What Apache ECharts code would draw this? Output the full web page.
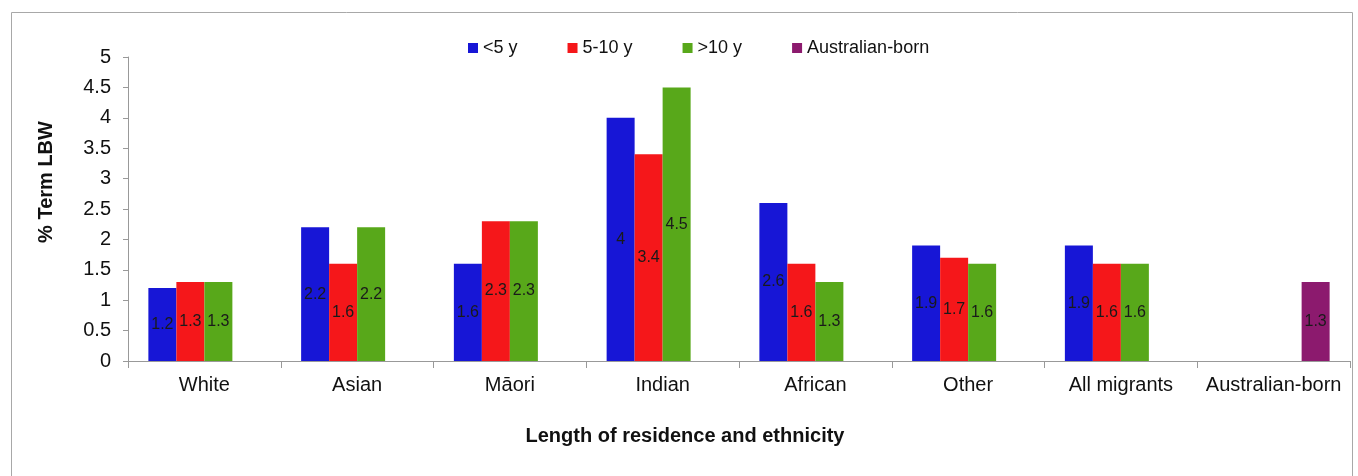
<!DOCTYPE html>
<html>
<head>
<meta charset="utf-8">
<script src="https://cdn.jsdelivr.net/npm/echarts@6/dist/echarts.min.js"></script>
<style>
  html, body { margin: 0; padding: 0; background: #fff; }
  #chart { width: 1358px; height: 476px; }
</style>
</head>
<body>
<div id="chart"></div>
<script>
// categories and values
const categories = ["White", "Asian", "Māori", "Indian", "African", "Other", "All migrants", "Australian-born"];
const under5 = [1.2, 2.2, 1.6, 4, 2.6, 1.9, 1.9, null];
const from5to10 = [1.3, 1.6, 2.3, 3.4, 1.6, 1.7, 1.6, null];
const over10 = [1.3, 2.2, 2.3, 4.5, 1.3, 1.6, 1.6, null];
const australianBorn = [null, null, null, null, null, null, null, 1.3];
const seriesNames = ["<5 y", "5-10 y", ">10 y", "Australian-born"];
const colors = ["#1716D6", "#F5171A", "#58A81A", "#8C1A6E"];

const font = "Liberation Sans, Arial, sans-serif";

function makeBar(name, data, color) {
  return {
    name: name,
    type: "bar",
    data: data,
    barWidth: 28,
    barGap: "0%",
    itemStyle: { color: color },
    label: {
      show: true,
      position: "inside",
      color: "#1a1a1a",
      fontFamily: font,
      fontSize: 16,
    },
  };
}

const chart = echarts.init(document.getElementById("chart"));
chart.setOption({
  animation: false,
  backgroundColor: "#fff",
  textStyle: { fontFamily: font },
  graphic: [
    {
      type: "rect",
      shape: { x: 11.5, y: 12.5, width: 1341, height: 500 },
      style: { fill: "none", stroke: "#a8a8a8", lineWidth: 1 },
      silent: true,
    },
  ],
  legend: {
    top: 34,
    left: 463,
    itemWidth: 10,
    itemHeight: 10,
    itemGap: 50,
    icon: "rect",
    data: seriesNames,
    textStyle: { fontSize: 18, color: "#111", fontFamily: font },
  },
  grid: { left: 128, right: 8, top: 57, bottom: 115 },
  xAxis: {
    type: "category",
    data: categories,
    name: "Length of residence and ethnicity",
    nameLocation: "middle",
    nameGap: 65,
    nameTextStyle: { fontSize: 20, fontWeight: "bold", color: "#111", padding: [0, 108, 0, 0] },
    axisLine: { lineStyle: { color: "#999" } },
    axisTick: { show: true, length: 7, alignWithLabel: false, lineStyle: { color: "#999" } },
    axisLabel: { fontSize: 20, color: "#111", margin: 14, interval: 0 },
  },
  yAxis: {
    type: "value",
    min: 0,
    max: 5,
    interval: 0.5,
    name: "% Term LBW",
    nameLocation: "middle",
    nameGap: 72,
    nameTextStyle: { fontSize: 20, fontWeight: "bold", color: "#111", padding: [0, 0, 0, 54] },
    splitLine: { show: false },
    axisLine: { show: true, lineStyle: { color: "#999" } },
    axisTick: { show: true, length: 5, lineStyle: { color: "#999" } },
    axisLabel: { fontSize: 20, color: "#111", margin: 17 },
  },
  series: [
    makeBar(seriesNames[0], under5, colors[0]),
    makeBar(seriesNames[1], from5to10, colors[1]),
    makeBar(seriesNames[2], over10, colors[2]),
    makeBar(seriesNames[3], australianBorn, colors[3]),
  ],
});
</script>
</body>
</html>
